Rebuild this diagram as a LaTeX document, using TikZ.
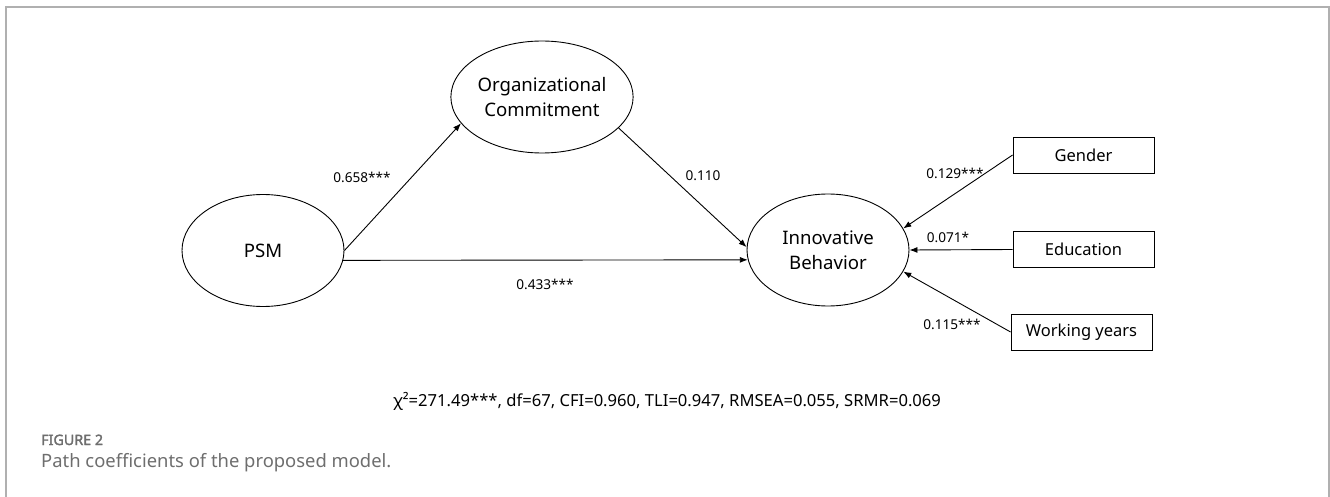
\documentclass[tikz,border=0pt]{standalone}
\usepackage{fontspec}
\setmainfont{Noto Sans}
\newfontfamily\figfont[AutoFakeBold=2.2]{Noto Sans}
\usetikzlibrary{shapes.geometric,arrows.meta}
\definecolor{framegray}{HTML}{B0B0B0}
\definecolor{capgray}{HTML}{6E6E6E}
\tikzset{
  latent/.style={draw, ellipse, line width=0.9pt, minimum width=162pt, minimum height=112pt, inner sep=0pt, align=center, font=\fontsize{18.6}{25.5}\selectfont},
  observed/.style={draw, rectangle, line width=0.9pt, minimum width=141pt, minimum height=36pt, inner sep=0pt, font=\fontsize{16.5}{20}\selectfont},
  path/.style={line width=0.9pt, -{Latex[length=8pt,width=6pt]}},
  coef/.style={font=\fontsize{13.6}{16}\selectfont, inner sep=0pt},
}
\begin{document}
\begin{tikzpicture}[x=1pt,y=-1pt]
\useasboundingbox (0,0) rectangle (1330,497);
\draw[framegray, line width=1.5pt] (6,497) -- (6,7) -- (1329,7) -- (1329,497);

\node[latent] (PSM) at (263,250.5) {PSM};
\node[latent] (OC) at (542,97) {Organizational\\Commitment};
\node[latent] (IB) at (828,250) {Innovative\\Behavior};
\node[observed] (G) at (1083.5,155) {Gender};
\node[observed] (E) at (1083.5,249.5) {Education};
\node[observed] (W) at (1081.5,332) {Working years};

\draw[path] (PSM.east) -- (OC.198);
\draw[path] (PSM.-7.5) -- (IB.187.8);
\draw[path] (OC.-22) -- (IB.178);
\draw[path] (G.west) -- (IB.16.6);
\draw[path] (E.west) -- (IB.east);
\draw[path] (W.west) -- (IB.-16.6);

\node[coef] (c1) at (362,177) {0.658***};
\node[coef] (c2) at (703,176) {0.110};
\node[coef] (c3) at (545,284) {0.433***};
\node[coef] (c4) at (955,173) {0.129***};
\node[coef] (c5) at (948,237) {0.071*};
\node[coef] (c6) at (952,324) {0.115***};

\node[font=\fontsize{16.6}{19}\selectfont, inner sep=0pt] (fit) at (667,401) {χ²=271.49***, df=67, CFI=0.960, TLI=0.947, RMSEA=0.055, SRMR=0.069};

\node[anchor=base west, inner sep=0pt, text=capgray, font=\figfont\bfseries\fontsize{14.3}{16}\selectfont] (fig) at (41,445) {FIGURE 2};
\node[anchor=base west, inner sep=0pt, text=capgray, font=\fontsize{18.4}{21}\selectfont] (cap) at (41,467) {Path coefficients of the proposed model.};
\end{tikzpicture}
\end{document}
